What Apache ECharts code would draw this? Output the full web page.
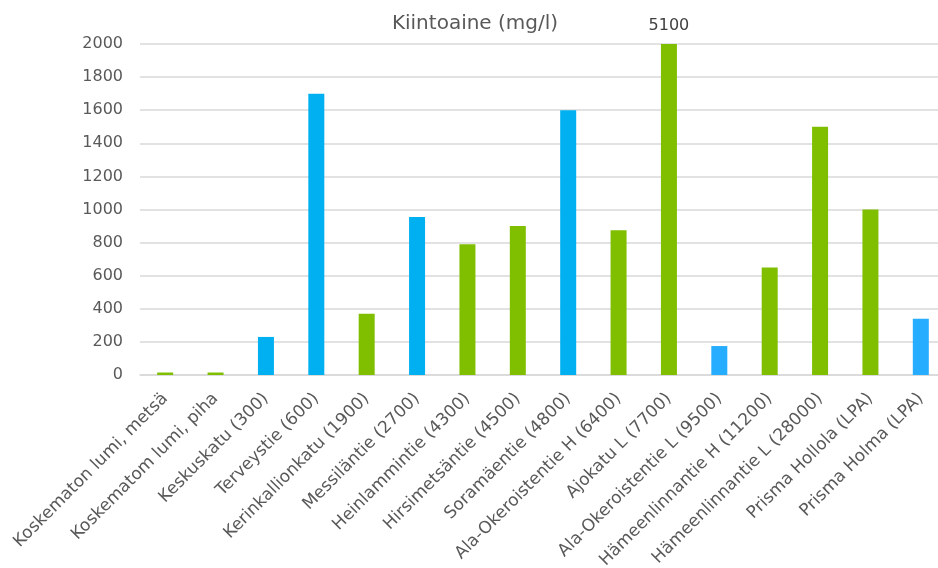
<!DOCTYPE html>
<html>
<head>
<meta charset="utf-8">
<title>Kiintoaine (mg/l)</title>
<script src="https://cdn.jsdelivr.net/npm/echarts@6/dist/echarts.min.js"></script>
<style>
  html, body { margin: 0; padding: 0; background: #ffffff; }
  #chart { width: 938px; height: 568px; }
</style>
</head>
<body>
<div id="chart"></div>
<script>
// Sampling sites and suspended solids (mg/l)
const categories = [
  'Koskematon lumi, metsä',
  'Koskematom lumi, piha',
  'Keskuskatu (300)',
  'Terveystie (600)',
  'Kerinkallionkatu (1900)',
  'Messiläntie (2700)',
  'Heinlammintie (4300)',
  'Hirsimetsäntie (4500)',
  'Soramäentie (4800)',
  'Ala-Okeroistentie H (6400)',
  'Ajokatu L (7700)',
  'Ala-Okeroistentie L (9500)',
  'Hämeenlinnantie H (11200)',
  'Hämeenlinnantie L (28000)',
  'Prisma Hollola (LPA)',
  'Prisma Holma (LPA)'
];
const values = [15, 15, 230, 1700, 370, 955, 790, 900, 1600, 875, 5100, 175, 650, 1500, 1000, 340];
// Sample group for each site: 'a', 'b' or 'c'
const groups = ['b', 'b', 'a', 'a', 'b', 'a', 'b', 'b', 'a', 'b', 'b', 'c', 'b', 'b', 'b', 'c'];
const yTicks = { min: 0, max: 2000, step: 200 };

const groupColors = { a: '#00B0F0', b: '#7FBF00', c: '#26ADFF' };
const axisMax = yTicks.max;

const seriesData = values.map((v, i) => {
  const item = { value: v, itemStyle: { color: groupColors[groups[i]] } };
  if (v > axisMax) {
    // bar is clipped at the axis top; its real value is printed above it
    item.label = {
      show: true,
      position: 'top',
      distance: 10,
      formatter: '{c}',
      color: '#404040',
      fontFamily: 'DejaVu Sans',
      fontSize: 16
    };
  }
  return item;
});

const chart = echarts.init(document.getElementById('chart'), null, { renderer: 'canvas' });
chart.setOption({
  animation: false,
  backgroundColor: '#ffffff',
  title: {
    text: 'Kiintoaine (mg/l)',
    left: 470,
    textAlign: 'center',
    top: 9,
    textStyle: {
      fontFamily: 'DejaVu Sans',
      fontSize: 20,
      fontWeight: 'normal',
      color: '#595959'
    }
  },
  grid: {
    left: 140,
    right: -8,
    top: 44,
    bottom: 193,
    containLabel: false,
    outerBoundsMode: 'none'
  },
  xAxis: {
    type: 'category',
    data: categories,
    axisLine: { show: true, lineStyle: { color: '#D9D9D9', width: 1.5 } },
    axisTick: { show: false },
    axisLabel: {
      rotate: 45,
      interval: 0,
      margin: 21,
      color: '#595959',
      fontFamily: 'DejaVu Sans',
      fontSize: 17
    }
  },
  yAxis: {
    type: 'value',
    min: yTicks.min,
    max: yTicks.max,
    interval: yTicks.step,
    axisLine: { show: false },
    axisTick: { show: false },
    splitLine: { lineStyle: { color: '#D9D9D9', width: 1.5 } },
    axisLabel: {
      margin: 17,
      color: '#595959',
      fontFamily: 'DejaVu Sans',
      fontSize: 16,
      formatter: (v) => String(v)
    }
  },
  series: [{
    type: 'bar',
    data: seriesData,
    barWidth: 16,
    clip: true
  }]
});
</script>
</body>
</html>
